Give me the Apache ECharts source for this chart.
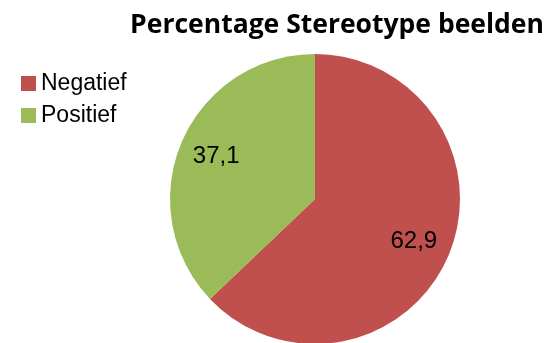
<!DOCTYPE html>
<html>
<head>
<meta charset="utf-8">
<script src="https://cdn.jsdelivr.net/npm/echarts@6/dist/echarts.min.js"></script>
<style>
  html, body { margin: 0; padding: 0; background: #fff; }
  #chart { width: 547px; height: 343px; }
</style>
</head>
<body>
<div id="chart"></div>
<script>
// Share of stereotype images, negative vs positive (percent)
const categories = ['Negatief', 'Positief'];
const values = [62.9, 37.1];
const colors = ['#C0504D', '#9BBB59'];

const data = categories.map((name, i) => ({ name, value: values[i] }));
const fmt = p => String(p.value).replace('.', ',');
const font = 'Liberation Sans, Arial, sans-serif';

const chart = echarts.init(document.getElementById('chart'), null, { renderer: 'canvas' });
chart.setOption({
  animation: false,
  color: colors,
  title: {
    text: 'Percentage Stereotype beelden',
    left: 332,
    textAlign: 'center',
    top: 7,
    textStyle: { fontFamily: 'Open Sans', fontWeight: 'bold', fontSize: 26.5, color: '#000' }
  },
  legend: {
    orient: 'vertical',
    left: 16,
    top: 67,
    itemWidth: 15,
    itemHeight: 15,
    itemGap: 9,
    icon: 'rect',
    textStyle: { fontFamily: font, fontSize: 23, color: '#000' },
    data: categories
  },
  series: [
    {
      type: 'pie',
      center: [315, 199],
      radius: [0, 145],
      startAngle: 90,
      clockwise: true,
      silent: true,
      label: { show: false },
      labelLine: { show: false },
      itemStyle: { borderWidth: 0 },
      data
    },
    {
      // label ring: places the value labels further out than the slice middle
      type: 'pie',
      center: [315, 199],
      radius: [64, 145],
      startAngle: 90,
      clockwise: true,
      silent: true,
      legendHoverLink: false,
      itemStyle: { color: 'rgba(0,0,0,0)', borderWidth: 0 },
      label: {
        show: true,
        position: 'inside',
        formatter: fmt,
        fontFamily: font,
        fontSize: 24,
        color: '#000'
      },
      labelLine: { show: false },
      data: categories.map((name, i) => ({ name: name + ' ', value: values[i] }))
    }
  ]
});
</script>
</body>
</html>
